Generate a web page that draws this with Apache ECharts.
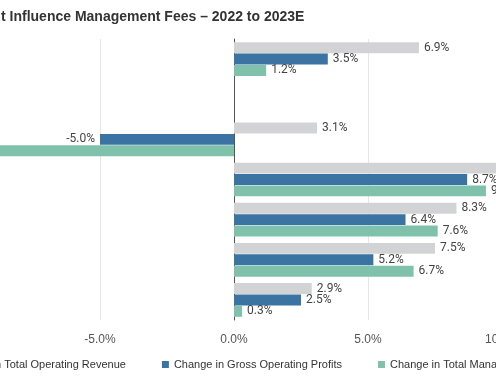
<!DOCTYPE html>
<html><head><meta charset="utf-8">
<script src="https://cdn.jsdelivr.net/npm/echarts@6/dist/echarts.min.js"></script>
<style>html,body{margin:0;padding:0;background:#fff;overflow:hidden;width:496px;height:380px}
#c{position:absolute;left:-200px;top:0;width:900px;height:380px}</style>
</head><body><div id="c"></div>
<script>
const titleText = 't Influence Management Fees \u2013 2022 to 2023E';
const categories = ['Segment A', 'Segment B', 'Segment C', 'Segment D', 'Segment E', 'Segment F', 'Segment G'];
const seriesNames = ['Change in Total Operating Revenue', 'Change in Gross Operating Profits', 'Change in Total Management Fees'];
const revenue = [6.9, null, 3.1, 10.6, 8.3, 7.5, 2.9];
const profits = [3.5, null, -5.0, 8.7, 6.4, 5.2, 2.5];
const fees = [1.2, null, -10.2, 9.4, 7.6, 6.7, 0.3];
const xTicks = [-15, -10, -5, 0, 5, 10, 15];
const colors = ['#d2d3d4', '#3b73a2', '#80c1ab'];

const labelFont = "Roboto, 'Liberation Sans', sans-serif";
const uiFont = "'Liberation Sans', Arial, sans-serif";
function mk(name, data, color) {
  return {
    name: name, type: 'bar', data: data.map(v => v === null ? '-' : {
      value: v,
      label: { position: v < 0 ? 'left' : 'right' }
    }),
    itemStyle: { color: color },
    barGap: '4%', barCategoryGap: '16%',
    label: {
      show: true, distance: 5, color: '#444', fontSize: 12, fontFamily: labelFont,
      formatter: p => p.value.toFixed(1) + '%'
    }
  };
}
const chart = echarts.init(document.getElementById('c'), null, { renderer: 'canvas' });
chart.setOption({
  animation: false,
  backgroundColor: '#fff',
  title: { text: titleText, left: 196, top: 5,
    textStyle: { fontSize: 14, fontWeight: 'bold', color: '#333', fontFamily: uiFont } },
  legend: {
    data: seriesNames, left: 134, top: 354, itemWidth: 7, itemHeight: 7, itemGap: 36,
    icon: 'rect',
    textStyle: { fontSize: 11, color: '#333', fontFamily: uiFont }
  },
  grid: { left: 32, right: 64, top: 39, bottom: 60, containLabel: false },
  xAxis: {
    type: 'value', min: xTicks[0], max: xTicks[xTicks.length - 1], interval: 5,
    axisLine: { show: false }, axisTick: { show: false },
    splitLine: { lineStyle: { color: '#e6e6e6' } },
    axisLabel: { margin: 14, fontSize: 12, color: '#555', fontFamily: uiFont,
      formatter: v => v.toFixed(1) + '%' }
  },
  yAxis: {
    type: 'category', data: categories, inverse: true,
    axisLine: { lineStyle: { color: '#555', width: 1 } },
    axisTick: { show: false }, axisLabel: { show: false }
  },
  series: [mk(seriesNames[0], revenue, colors[0]), mk(seriesNames[1], profits, colors[1]), mk(seriesNames[2], fees, colors[2])]
});
</script></body></html>
